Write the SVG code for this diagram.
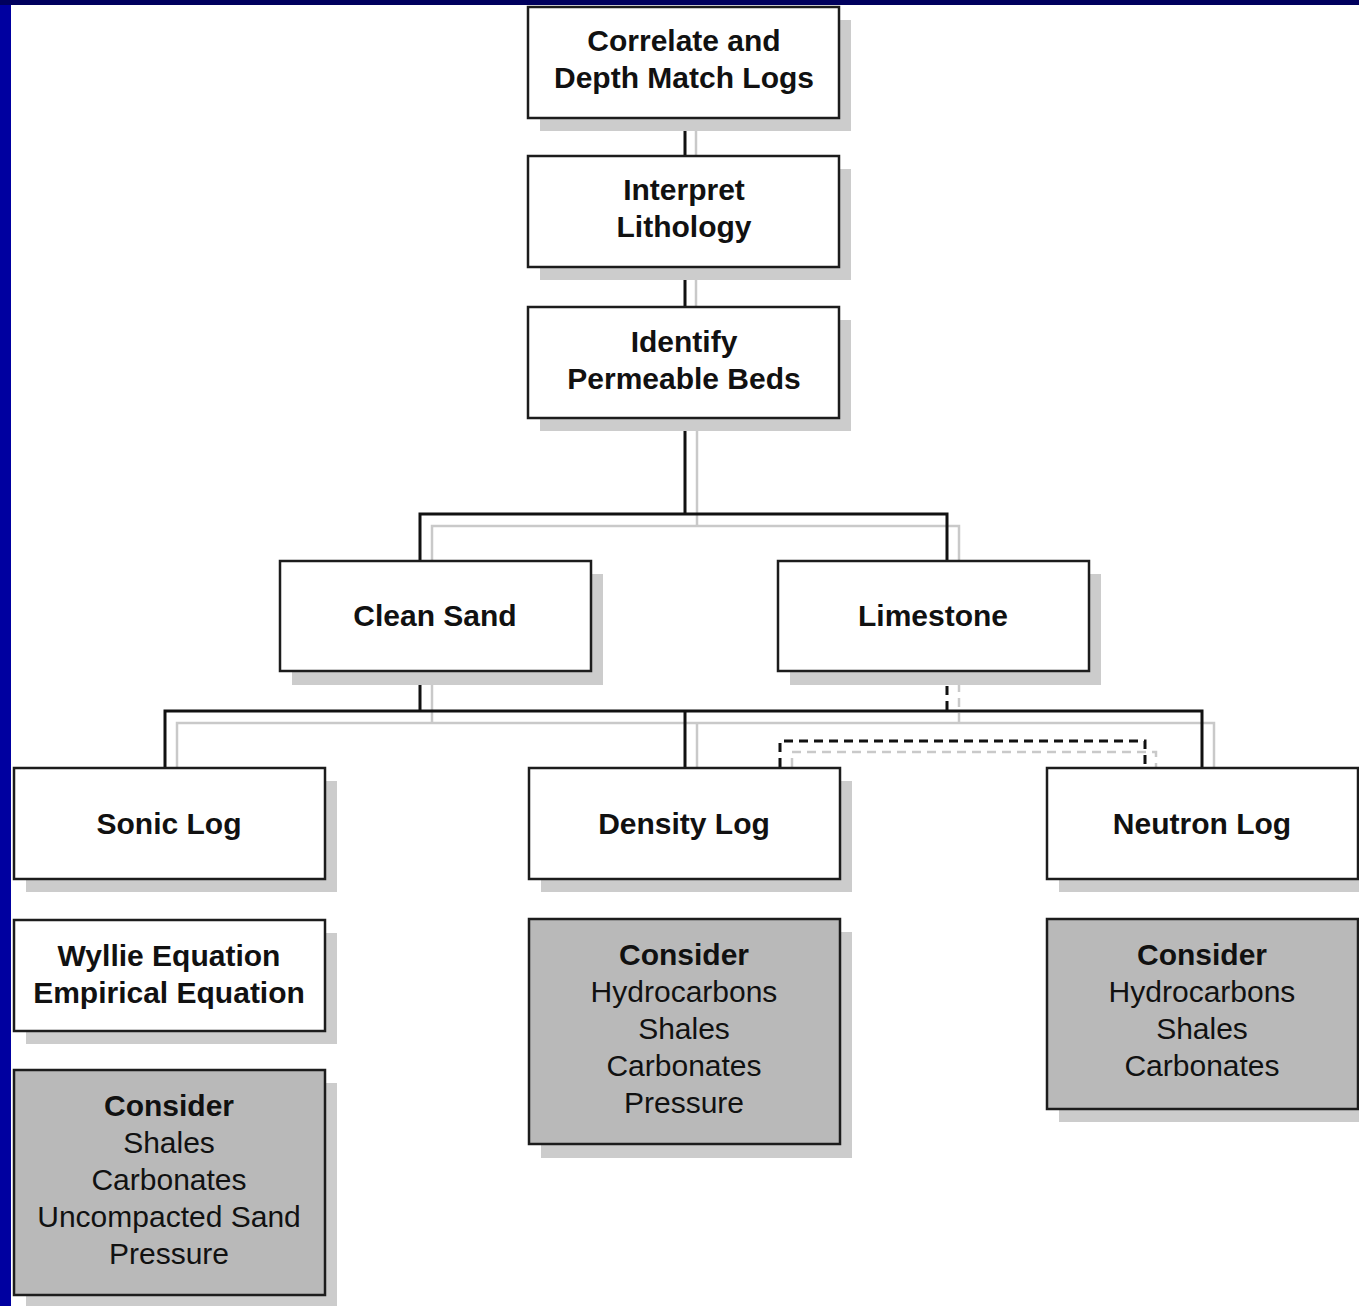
<svg xmlns="http://www.w3.org/2000/svg" width="1359" height="1306" viewBox="0 0 1359 1306">
  <style>
    .box { fill: #ffffff; stroke: #1c1c1c; stroke-width: 2.5; }
    .box.grey { fill: #b9b9b9; }
    .shadow { fill: #cccccc; }
    .line { fill: none; stroke: #111111; stroke-width: 3; }
    .line-sh { fill: none; stroke: #c9c9c9; stroke-width: 2.5; }
    .dash { stroke-dasharray: 9 6; }
    text { font-family: "Liberation Sans", Arial, Helvetica, sans-serif; font-size: 30px; fill: #111111; text-anchor: middle; }
    .b { font-weight: bold; }
  </style>

  <!-- page frame -->
  <rect x="0" y="0" width="1359" height="1306" fill="#ffffff"/>
  <rect x="0" y="0" width="11" height="1306" fill="#0000a0"/>
  <rect x="0" y="0" width="1359" height="5" fill="#00005e"/>

  <!-- connectors -->
  <g id="connectors">
    <!-- drop-shadow copies -->
    <path class="line-sh" d="M696,118 V167 M696,267 V318"/>
    <path class="line-sh" d="M697,418 V526 M432,560 V526 H959 V560"/>
    <path class="line-sh" d="M432,671 V723 M177,767 V723 H1214 V767 M697,723 V767"/>
    <path class="line-sh dash" d="M959,683 V723 M792,767 V752 H1156 V767"/>
    <!-- main lines -->
    <path class="line" d="M685,118 V155 M685,267 V306"/>
    <path class="line" d="M685,418 V514 M420,560 V514 H947 V560"/>
    <path class="line" d="M420,671 V711 M165,767 V711 H1202 V767 M685,711 V767"/>
    <path class="line dash" d="M947,671 V711 M780,767 V741 H1145 V767"/>
  </g>

  <g id="correlate">
    <rect class="shadow" x="540" y="20" width="311" height="111"/>
    <rect class="box" x="528" y="7" width="311" height="111"/>
    <text class="b" x="684" y="51">Correlate and</text>
    <text class="b" x="684" y="88">Depth Match Logs</text>
  </g>

  <g id="interpret">
    <rect class="shadow" x="540" y="169" width="311" height="111"/>
    <rect class="box" x="528" y="156" width="311" height="111"/>
    <text class="b" x="684" y="200">Interpret</text>
    <text class="b" x="684" y="237">Lithology</text>
  </g>

  <g id="identify">
    <rect class="shadow" x="540" y="320" width="311" height="111"/>
    <rect class="box" x="528" y="307" width="311" height="111"/>
    <text class="b" x="684" y="352">Identify</text>
    <text class="b" x="684" y="389">Permeable Beds</text>
  </g>

  <g id="clean-sand">
    <rect class="shadow" x="292" y="574" width="311" height="111"/>
    <rect class="box" x="280" y="561" width="311" height="110"/>
    <text class="b" x="435" y="626">Clean Sand</text>
  </g>

  <g id="limestone">
    <rect class="shadow" x="790" y="574" width="311" height="111"/>
    <rect class="box" x="778" y="561" width="311" height="110"/>
    <text class="b" x="933" y="626">Limestone</text>
  </g>

  <g id="sonic-log">
    <rect class="shadow" x="26" y="781" width="311" height="111"/>
    <rect class="box" x="14" y="768" width="311" height="111"/>
    <text class="b" x="169" y="834">Sonic Log</text>
  </g>

  <g id="density-log">
    <rect class="shadow" x="541" y="781" width="311" height="111"/>
    <rect class="box" x="529" y="768" width="311" height="111"/>
    <text class="b" x="684" y="834">Density Log</text>
  </g>

  <g id="neutron-log">
    <rect class="shadow" x="1059" y="781" width="311" height="111"/>
    <rect class="box" x="1047" y="768" width="311" height="111"/>
    <text class="b" x="1202" y="834">Neutron Log</text>
  </g>

  <g id="wyllie">
    <rect class="shadow" x="26" y="933" width="311" height="111"/>
    <rect class="box" x="14" y="920" width="311" height="111"/>
    <text class="b" x="169" y="966">Wyllie Equation</text>
    <text class="b" x="169" y="1003">Empirical Equation</text>
  </g>

  <g id="sonic-consider">
    <rect class="shadow" x="26" y="1083" width="311" height="226"/>
    <rect class="box grey" x="14" y="1070" width="311" height="225"/>
    <text class="b" x="169" y="1116">Consider</text>
    <text x="169" y="1153">Shales</text>
    <text x="169" y="1190">Carbonates</text>
    <text x="169" y="1227">Uncompacted Sand</text>
    <text x="169" y="1264">Pressure</text>
  </g>

  <g id="density-consider">
    <rect class="shadow" x="541" y="932" width="311" height="226"/>
    <rect class="box grey" x="529" y="919" width="311" height="225"/>
    <text class="b" x="684" y="965">Consider</text>
    <text x="684" y="1002">Hydrocarbons</text>
    <text x="684" y="1039">Shales</text>
    <text x="684" y="1076">Carbonates</text>
    <text x="684" y="1113">Pressure</text>
  </g>

  <g id="neutron-consider">
    <rect class="shadow" x="1059" y="932" width="311" height="190"/>
    <rect class="box grey" x="1047" y="919" width="311" height="190"/>
    <text class="b" x="1202" y="965">Consider</text>
    <text x="1202" y="1002">Hydrocarbons</text>
    <text x="1202" y="1039">Shales</text>
    <text x="1202" y="1076">Carbonates</text>
  </g>
</svg>
